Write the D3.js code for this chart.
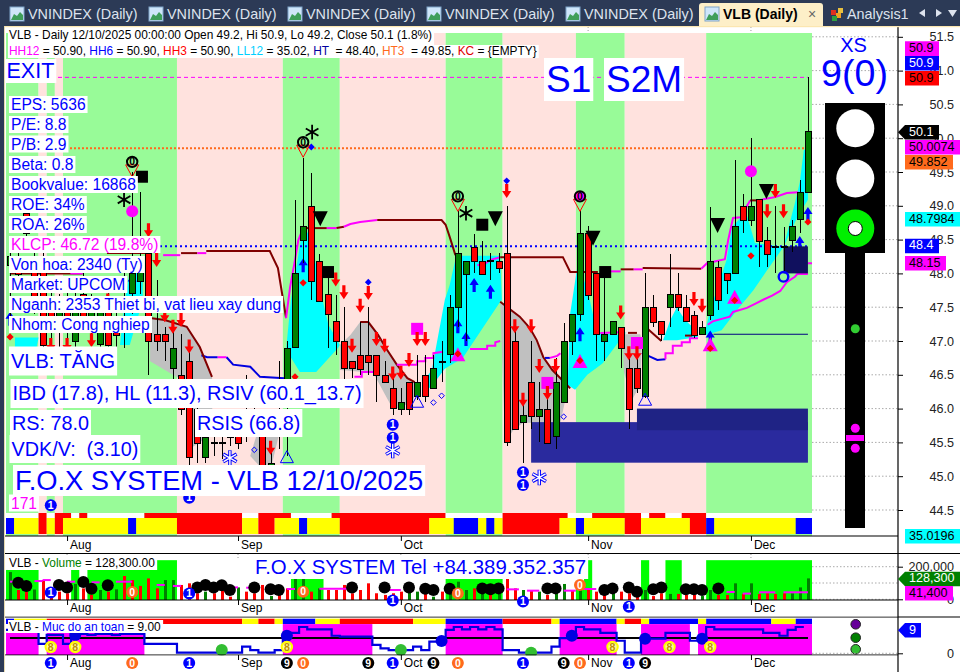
<!DOCTYPE html>
<html><head><meta charset="utf-8">
<style>
html,body{margin:0;padding:0;background:#fff;width:960px;height:672px;overflow:hidden}
svg{display:block}
text{font-family:"Liberation Sans",Arial,sans-serif;white-space:pre}
</style>
<script src="https://cdnjs.cloudflare.com/ajax/libs/d3/7.9.0/d3.min.js"></script>
</head><body><div id="c"></div>
<script>
// ---------- DATA ----------
const opens =[48.12,48.2,48.9,48.23,48.17,47.6,47.2,47.6,47.0,47.7,47.2,46.95,47.6,47.3,47.5,47.7,47.9,48.3,47.1,47.1,46.6,46.5,46.7,46.0,45.28,45.5,45.5,45.6,45.6,45.7,46.0,45.6,45.1,45.8,46.1,46.9,48.49,49.0,48.19,47.69,47.29,47.0,46.7,46.8,46.8,46.8,46.5,46.3,46.0,46.4,46.19,46.5,46.3,46.7,46.8,47.5,48.0,48.39,48.19,48.2,48.19,48.3,47.0,45.8,46.4,45.9,46.0,45.6,46.1,47.0,47.4,48.6,48.0,47.0,47.1,47.2,46.6,46.6,46.19,47.5,47.29,47.5,47.69,47.5,47.39,47.1,47.39,48.09,48.0,48.0,48.99,48.79,49.1,48.49,48.4,48.4,48.49,48.8,49.2];
const highs =[48.39,48.4,49.1,48.4,48.5,47.9,47.7,47.9,47.8,48.0,47.7,47.6,47.9,47.6,48.1,49.5,49.2,48.5,47.9,47.2,47.13,47.1,47.0,46.2,45.6,45.6,45.6,45.7,46.0,46.5,46.3,46.0,45.5,46.7,47.0,49.08,49.7,49.48,48.28,48.0,47.68,47.5,46.7,47.28,47.5,46.8,46.7,46.45,46.3,46.4,46.8,46.8,46.8,47.0,47.68,48.92,48.19,48.58,48.48,48.3,48.3,48.99,47.2,46.1,47.0,46.4,46.3,46.75,47.27,47.4,48.92,48.7,48.0,48.0,47.29,47.2,46.9,46.8,48.0,47.68,47.29,48.28,48.0,47.68,47.45,47.29,48.98,48.18,48.0,49.68,49.18,50.0,49.1,48.68,49.0,48.69,48.79,49.38,50.9];
const lows  =[47.35,47.8,48.3,47.4,46.9,47.0,46.9,47.0,46.8,47.2,47.0,46.8,46.8,46.9,46.9,47.4,47.7,46.5,46.85,46.7,46.4,45.9,45.0,45.2,45.2,45.3,45.25,45.45,45.4,45.5,45.6,45.0,45.0,45.4,45.3,46.9,48.15,47.6,47.6,46.9,46.8,46.03,46.45,46.5,46.5,46.1,46.4,45.9,45.9,45.9,46.13,46.1,46.3,46.4,46.67,47.2,47.0,48.0,48.0,47.9,48.0,45.45,45.7,45.2,45.7,45.5,45.5,45.4,46.1,46.8,47.3,47.6,46.7,46.7,47.1,46.6,45.7,46.23,46.15,47.21,47.0,47.21,47.45,47.29,47.05,47.1,47.31,47.46,47.69,48.0,48.6,48.7,48.1,48.1,48.0,48.0,48.31,48.6,49.2];
const closes=[48.26,48.0,48.6,47.6,46.94,47.2,47.5,47.2,47.6,47.3,47.5,47.5,46.93,47.1,47.5,48.0,48.1,47.0,47.0,47.0,46.9,46.0,45.28,45.5,45.58,45.5,45.5,45.6,45.5,45.6,45.8,45.1,45.2,46.0,46.9,48.0,48.7,47.89,47.6,47.39,47.0,46.6,46.6,46.6,46.7,46.5,46.4,46.0,46.1,46.0,46.4,46.19,46.6,46.7,47.5,48.3,48.19,48.19,48.0,48.2,48.09,45.5,45.7,45.9,45.9,46.0,45.5,46.4,47.0,47.4,48.6,47.69,47.1,47.1,47.29,46.89,46.0,46.3,47.5,47.28,47.1,47.69,47.5,47.29,47.1,47.2,48.19,47.6,47.89,48.7,48.79,48.99,48.48,48.29,48.4,48.4,48.7,49.2,50.1];
const volumes=[167,57,47,60,118,60,47,37,94,67,27,57,47,61,143,118,82,128,67,118,118,88,98,37,47,37,57,16,73,47,37,88,20,27,67,128,128,47,67,57,57,88,37,57,98,37,27,37,47,47,47,88,16,47,57,108,57,67,57,27,57,128,67,57,57,47,27,47,94,57,73,61,47,57,47,47,37,27,57,20,37,33,33,27,27,20,57,27,27,98,33,98,33,37,33,37,37,73,128.3];
const volumeDir="grrgrrrrgr"+"rgrgrrrrrg"+"grrrgrrrgr"+"rrgrrggrgr"+"rrrrrrrrrg"+"grgrgggrgr"+"grrgrgrggr"+"grrrgrrrgr"+"rgrrrggrrg"+"rgrrrrggg";
const safety=[8,8,8,8,3.2,6.3,6.3,3.2,6.6,6.6,6.3,6.6,6.6,6.3,6.6,6.6,6.6,3.2,3.2,3.2,3.2,.2,.2,.2,.2,.2,.2,.2,.2,2.3,1.1,.2,.2,1.1,6,7,9,8.2,8.2,8.2,6,5.7,5.7,5.7,5.7,2.9,1.7,1.1,1.1,1.1,2.3,1.1,4,4.2,8,9,8.2,9,8.2,9,8.2,1.1,1.1,.2,.2,.2,.2,2.3,5.2,6,9,8.2,8.2,7,7,4.3,.2,.2,5,5,5,7,7,7,4.3,5,9,8.2,8.2,8.2,8.2,8.2,8.2,7,7,6,8,9,9];
const monthTicks=[7,28,48,71,91];
const monthNames=["Aug","Sep","Oct","Nov","Dec"];
const priceTicks=[44.5,45,45.5,46,46.5,47,47.5,48,48.5,49,49.5,50,50.5,51,51.5];
const volumeTicks=[0,100,200];
// runs: [kind, number of bars]
const bandRuns=[["g",4],["p",1],["g",1],["p",1],["g",14],["p",13],["g",7],["p",13],["g",7],["p",9],["g",6],["p",10],["g",13]];
const stripMain=[["b",1],["y",3],["r",1],["y",1],["r",1],["y",8],["b",1],["y",5],["r",8],["y",2],["r",2],["y",3],["b",1],["y",4],["r",11],["y",3],["b",3],["y",1],["b",1],["y",1],["r",7],["y",2],["b",1],["y",5],["r",2],["y",6],["r",2],["b",1],["y",10],["b",2]];
const stripTop=[["w",4],["r",1],["w",1],["r",2],["w",1],["r",1],["w",7],["r",12],["w",2],["r",4],["w",5],["r",14],["w",7],["r",8],["w",3],["r",6],["w",1],["r",2],["w",2],["r",3],["w",13]];
const safetyStrip=[["b",1],["y",4],["r",24],["y",2],["r",2],["y",1],["b",4],["y",3],["r",9],["y",4],["b",7],["r",6],["y",1],["b",7],["y",1],["r",2],["y",1],["b",6],["y",1],["b",8],["y",3],["b",2]];
const safetyBlocks=[[0,3,7],[5,16,7],[34,44,10],[54,60,10],[68,74,10],[78,83,10],[85,98,10]];
const volumeBg=[[0,3,180],[8,8,180],[10,20,240],[35,38,128],[54,60,128],[70,70,67],[71,71,240],[78,78,240],[81,82,240],[86,98,240]];
const volumeAvg=[[0,1,108],[3,4,112],[4,5,118],[7,8,108],[10,11,104],[13,15,108],[18,19,88],[20,21,82],[27.5,28,73],[29,29.5,71],[34,35,63],[38,42,65],[46,48,57],[51.5,52.5,57],[61,62.5,61],[63.5,65,53],[68,69.5,53],[70,72,63],[88,89,45],[90,91,35],[92,94,43],[95,98,43]];
const volumeBlobs=[[1,102],[2,82],[6,88],[7,73],[9,106],[10,65],[12,86],[23,73],[24,88],[25,73],[26,86],[27,57],[30,73],[32,61],[33,57],[42,73],[46,73],[49,73],[51,65],[52,57],[54,65],[58,67],[59,61],[60,67],[66,67],[67,67],[73,57],[74,67],[76,73],[77,47],[79,61],[80,73],[83,61],[84,61],[85,57],[87,67]];
const cyanClouds=[
 [[.6,47.05],[3.5,47.05],[3.2,46.87],[.6,46.87]],
 [[13.5,46.94],[14.1,47.6],[14.7,48.02],[16.3,48.02],[16.3,47.6],[14.7,46.94]],
 [[33.9,46.87],[34.5,47.61],[35.2,48.12],[36,48.7],[36.7,48.57],[37.6,48.12],[38.1,47.75],[39.1,47.24],[40.5,46.94],[40.3,46.9],[37.6,46.54],[35.6,46.54]],
 [[50.6,46.38],[51.8,46.57],[53.4,47.61],[54,47.83],[54.8,48.26],[60.2,48.26],[60.4,47.61],[60.2,47.58],[55.6,46.75],[53.4,46.59],[51.6,46.3]],
 [[68.5,46.35],[68.8,47.41],[69.8,48.2],[71.2,47.61],[72.1,47.12],[74.9,47.09],[75.7,47.13],[74.9,47.01],[72.8,46.67],[70.9,46.5],[69.4,46.28]],
 [[80.2,47.01],[81.1,47.31],[81.9,47.5],[82.9,47.31],[83.8,47.21],[84.5,47.06],[81.9,47.01]],
 [[85.4,47.16],[86,47.46],[88,48.2],[88.7,48.69],[89.7,48.82],[90.5,48.86],[91.5,48.45],[95,48.39],[96.4,49.04],[97,49.35],[97.5,49.83],[98,49.83],[98,49.09],[96.7,48.83],[95,48.39],[93,48.05],[91.3,47.75],[89.3,47.46],[87.4,47.16],[85.4,47.09]]
];
const greyClouds=[
 [[17.2,47.34],[19,47.31],[21.7,47.21],[23.3,46.91],[24.8,46.47],[25,46.2],[24.5,45.6],[22,45.4],[21.5,46.4],[20,46.5],[17.2,46.7]],
 [[29.5,45.3],[30.5,45.7],[33,45.6],[32,45.1],[31,45.1]],
 [[40.5,46.94],[41.8,47.09],[43,47.28],[44,47.28],[45.2,47.09],[46.3,46.87],[47.5,46.65],[48.8,46.45],[49.7,46.39],[50.4,46.38],[49.5,46.13],[47.9,46],[46.9,46.02],[44.6,46.53],[40.5,46.57]],
 [[60.2,47.58],[62.6,47.36],[64,47.16],[65.5,46.76],[67.6,46.45],[68.5,46.3],[67.6,45.79],[63,45.79],[61.8,45.68],[60.8,45.49]],
 [[75.2,47.1],[77.4,47.1],[77.6,47.01],[77.4,46.35],[76.4,46.13],[75.4,46.54]]
];
const zones=[[64,98,45.8,45.2,"a"],[77,98,46,45.68,"b"],[95,98,48.4,48,"c"]];
// trailing-stop lines, one entry per colour run
const trail=[
 ["r",[[0,48],[8.9,48]]],["m",[[7.4,48],[8.9,48]]],["r",[[11.9,48.3],[16.8,48.3]]],["m",[[18.8,48.27],[20.9,48.27]]],
 ["r",[[21,48.3],[23,48.3]]],["m",[[23,48.3],[24.1,48.3]]],["r",[[24.1,48.33],[31.9,48.33],[32.9,48.08],[33.4,47.71],[33.9,47.34]]],
 ["m",[[33.9,47.34],[34.4,47.8],[35,48.2],[35.4,48.49],[36,48.67]]],["r",[[36,48.67],[38.9,48.67]]],["m",[[38.9,48.67],[40.1,48.67]]],
 ["r",[[40.1,48.67],[41,48.69]]],["m",[[41,48.69],[41.8,48.73],[43,48.76],[45.1,48.79]]],
 ["r",[[45.1,48.79],[53,48.79],[53.5,48.72],[54,48.54],[54.7,48.27]]],["m",[[57.4,48.12],[58.4,48.15],[59,48.2],[60.2,48.24]]],
 ["r",[[60.2,48.24],[67.9,48.24],[68.8,48.02],[72.2,48.02]]],["m",[[73.7,48.03],[75,48.03]]],["r",[[75,48.06],[76.6,48.06]]],["m",[[76.6,48.06],[77.7,48.06]]],
 ["r",[[77.7,48.08],[84.9,48.07]]],["m",[[84.9,48.07],[85.6,48.15],[87.8,48.21],[88.2,48.49],[88.8,48.82],[89.7,48.83],[90.9,49.08]]],
 ["r",[[90.9,49.08],[91.8,49.08]]],["m",[[91.8,49.08],[94,49.13],[95.4,49.19],[96.8,49.2]]],
 ["b",[[23.5,46.79],[24.2,46.76],[25.5,46.76]]],["m",[[25.5,46.76],[26.6,46.76]]],["b",[[26.6,46.76],[27.4,46.65],[29.5,46.62],[30.7,46.47],[33.7,46.45]]],
 ["r",[[17.2,47.34],[19,47.31],[21.7,47.21],[23.3,46.91],[24.8,46.47]]],
 ["m",[[42.3,46.47],[43.2,46.47],[43.2,46.54],[44.6,46.54]]],
 ["r",[[43,47.28],[44,47.28],[45.2,47.09],[46.3,46.87],[47.5,46.65],[48.8,46.45],[49.7,46.39]]],
 ["m",[[47.5,46.65],[50,46.65],[50,46.7],[51,46.7],[51,46.75],[52,46.75],[52,46.82],[53.2,46.84]]],
 ["m",[[56.5,46.88],[58.6,46.88],[58.6,46.93],[59.6,46.93],[59.6,46.98],[60.2,47]]],
 ["r",[[60.2,47.58],[62.6,47.36],[63.5,47.24],[64,47.16],[64.7,47.01],[65.5,46.76],[66.6,46.57],[67.6,46.45],[68.8,46.3]]],
 ["b",[[65.7,46.75],[66.3,46.75]]],["m",[[66.3,46.75],[67.2,46.78],[67.6,46.82]]],["m",[[72.5,47.12],[74.9,47.13]]],
 ["r",[[75.9,47.12],[77,47.12]]],["r",[[78.4,47.17],[80,47]]],["b",[[77.6,46.82],[78.4,46.78],[79.5,46.72],[80.5,46.73]]],
 ["m",[[80.5,46.73],[80.5,46.82],[81.4,46.82],[81.4,46.93],[82.5,46.93],[82.5,46.98],[83.5,46.98],[83.5,47.04],[84.5,47.04]]],
 ["r",[[82.9,47.08],[83.8,47.08]]],
 ["m",[[85.7,47.24],[86.3,47.29],[88.4,47.36],[88.8,47.43],[90.5,47.49],[91.5,47.55],[92.5,47.61],[93.6,47.67],[94.6,47.74],[95.4,47.87],[96.4,47.95],[96.7,47.99],[98,47.99]]],
 ["m",[[98,48.15],[98.5,48.15]]]
];
const redArrows=[[17,48.64],[18,48.2],[19,47.38],[20,47.21],[21,47.31],[22,46.92],[5,46.94],[7,46.94],[10,47.01],[12,47.6],[32,45.42],[40,47.91],[41,47.72],[43,47.52],[44,47.71],[42,46.93],[45,47.03],[46,46.93],[47,46.52],[48,46.53],[49,46.72],[50,47.03],[51,47.03],[61,49.22],[62,47.22],[63,46.13],[64,47.22],[65,46.63],[66,46.23],[67,46.63],[75,47.42],[76,46.82],[77,46.82],[84,47.62],[85,47.52],[94,49.22],[93,48.92],[95,48.92]];
const blueArrows=[[55,47.22],[56,47.03],[57,47.83],[59,47.73],[70,47.1],[36,48.12],[15,47.88],[98,48.88],[86,47.05],[97,48.45],[0,47.33]];
const magentaTriangles=[[55,46.7],[70,46.6],[86,46.85],[89,47.55]];
const hollowTriangles=[[50,46.02],[78,46.05],[34,45.2]];
const blackFlags=[[38.1,48.81],[59.6,48.81],[71.6,48.52],[86.9,48.71],[92.9,49.21]];
const blackSquares=[[16.2,49.43],[39.05,48.02],[58,48.72],[73.1,48.02]];
const magentaSquares=[[50,47.18],[66,46.38],[77,46.97]];
const magentaDots=[[15,48.92],[91,49.51]];
const redDiamonds=[[0,47.06],[35,46.47],[36,47.86],[91,48.26],[98,48.76],[55,46.81],[70,46.71],[86,46.89],[89,47.6]];
const blueDiamonds=[[44,47.87],[61,49.37],[37,49.87]];
const hollowDiamonds=[[52,46.09],[53,46.19],[68,45.88],[30,45.39]];
const asterisks=[[14,49.09],[37.1,50.09],[56,48.89]];
const snowflakes=[[47,45.38],[65,44.98],[27,45.27]];
const zeroBadges=[[15,49.65],[36,49.94],[55,49.14],[70,49.14]];
const oneBadges=[[47,45.76],[47,45.57],[63,45.06],[63,44.87],[5,44.57],[22,44.68]];
const volumeBadges=[["1",5,41],["0",15,45],["1",22,35],["0",36,47],["1",47,-8],["0",55,35],["1",63,-14],["0",70,88],["1",76,-45]];
const safetyDots=[["b",34,6],["b",8,6.3],["b",53,4.2],["b",69,6],["b",78,5],["b",85,5],["l",26,1.1],["l",48,1.1],["l",64,.2]];
const safetyEights=[5,8,34,74,81,86];
const bottomBadges=[["1",5],["0",15],["1",22],["9",34],["0",36],["9",44],["1",47],["9",52],["0",55],["1",63],["9",68],["0",70],["1",76],["9",78]];
const levels=[[50.9,"dash"],[49.85,"orange"],[48.4,"blue"]];
const priceLabels=[["50.9","m",41.3,0],["50.9","u",56,0],["50.9","e",71,0],["50.1","k",125,1],["50.0074","m",140,0],["49.852","o",155,0],["48.7984","c",212,0],["48.4","u",238.7,0],["48.15","m",256,0],["35.0196","c",529,0],["128,300","d",571.7,1],["41,400","m",586,0],["9","u",623,1]];
const indicatorLabels=[["EPS: 5636",110],["P/E: 8.8",130],["P/B: 2.9",149.5],["Beta: 0.8",170],["Bookvalue: 16868",190],["ROE: 34%",210],["ROA: 26%",230],["KLCP: 46.72 (19.8%)",250],["Von hoa: 2340 (Ty)",270],["Market: UPCOM",290],["Nganh: 2353 Thiet bi, vat lieu xay dung",310],["Nhom: Cong nghiep",330]];
const tabNames=["VNINDEX (Daily)","VNINDEX (Daily)","VNINDEX (Daily)","VNINDEX (Daily)","VNINDEX (Daily)"];

// ---------- STYLE ----------
const BLUE="#0000FF",MAG="#FF00FF",ORG="#FF6A1C",DRED="#800000",FONT='"Liberation Sans",Arial,sans-serif';
const kindColor={g:"#98FB98",p:"#FFE2DE",b:"#0000FF",y:"#FFFF00",r:"#FF0000",w:"#FFFFFF",m:MAG,u:"#0000FF",e:"#FF0000",k:"#000",o:ORG,c:"#00FFFF",d:"#008000",l:"#32CD32"};
const trailColor={r:DRED,m:MAG,b:"#0000E0"};
const zoneColor={a:"#2A2A9E",b:"#1F2385",c:"#10105E"};

const svg=d3.select("#c").append("svg").attr("width",960).attr("height",672).attr("viewBox","0 0 960 672");
svg.append("rect").attr("width",960).attr("height",672).attr("fill","#fff");

// ---------- SCALES ----------
const xBand=d3.scaleBand().domain(d3.range(99)).range([6,812]).padding(0);
const xL=d3.scaleLinear().domain([-.5,98.5]).range([6,812]);
const y=d3.scaleLinear().domain([44.5,51.5]).range([510,36.8]);
const yV=d3.scaleLinear().domain([0,200]).range([599.3,566.7]);
const yS=d3.scaleLinear().domain([0,9]).range([653.3,627]);
const line=d3.line().x(d=>xL(d[0])).y(d=>y(d[1]));

function runs(list){let at=0;return list.map(([k,n])=>{const r={k,from:at,to:at+n-1};at+=n;return r;});}
const bandLeft=i=>xL(i-.5), bandRight=i=>xL(i+.5);

// ---------- MAIN PANEL ----------
const main=svg.append("g");
main.selectAll("rect.band").data(runs(bandRuns)).join("rect").attr("class","band")
 .attr("x",d=>bandLeft(d.from)).attr("width",d=>bandRight(d.to)-bandLeft(d.from)).attr("y",33).attr("height",503).attr("fill",d=>kindColor[d.k]);
main.selectAll("rect.top").data(runs(stripTop)).join("rect").attr("class","top")
 .attr("x",d=>bandLeft(d.from)).attr("width",d=>bandRight(d.to)-bandLeft(d.from)).attr("y",513).attr("height",5).attr("fill",d=>kindColor[d.k]);
main.selectAll("rect.strip").data(runs(stripMain)).join("rect").attr("class","strip")
 .attr("x",d=>bandLeft(d.from)).attr("width",d=>bandRight(d.to)-bandLeft(d.from)).attr("y",518).attr("height",16).attr("fill",d=>kindColor[d.k]);

const poly=pts=>"M"+pts.map(d=>[xL(d[0]),y(d[1])].join(",")).join("L")+"Z";
main.selectAll("path.cy").data(cyanClouds).join("path").attr("class","cy").attr("d",poly).attr("fill","#00FFFF");
main.selectAll("path.gr").data(greyClouds).join("path").attr("class","gr").attr("d",poly).attr("fill","#C0C0C0");

// level lines
main.selectAll("line.lv").data(levels).join("line").attr("class","lv")
 .attr("x1",d=>d[1]=="dash"?58:70).attr("x2",xL(98)).attr("y1",d=>y(d[0])).attr("y2",d=>y(d[0]))
 .attr("stroke",d=>d[1]=="dash"?MAG:d[1]=="orange"?ORG:BLUE)
 .attr("stroke-width",d=>d[1]=="dash"?1:2)
 .attr("stroke-dasharray",d=>d[1]=="dash"?"4,3":d[1]=="orange"?"2,2":"2,3");

// trailing lines
main.selectAll("path.tr").data(trail).join("path").attr("class","tr")
 .attr("d",d=>line(d[1])).attr("fill","none").attr("stroke",d=>trailColor[d[0]]).attr("stroke-width",2);
main.append("line").attr("x1",xL(86.4)).attr("x2",xL(98)).attr("y1",y(47.1)).attr("y2",y(47.1)).attr("stroke","#000080").attr("stroke-width",1.2);

// arrows
const arrowDown=(x,yy)=>`M${x-1.6},${yy-7}h3.2v7h3l-4.6,7l-4.6,-7h3z`;
const arrowUp=(x,yy)=>`M${x-1.6},${yy+7}h3.2v-7h3l-4.6,-7l-4.6,7h3z`;
main.selectAll("path.ub").data(blueArrows).join("path").attr("class","ub").attr("d",d=>arrowUp(xL(d[0]),y(d[1]))).attr("fill",BLUE);

// zones
main.selectAll("rect.zone").data(zones).join("rect").attr("class","zone")
 .attr("x",d=>xL(d[0])).attr("width",d=>xL(d[1])-xL(d[0])).attr("y",d=>y(d[2])).attr("height",d=>y(d[3])-y(d[2])).attr("fill",d=>zoneColor[d[4]]);

// candles
const idx=d3.range(99);
const cg=main.append("g");
cg.selectAll("line").data(idx).join("line")
 .attr("x1",i=>Math.round(xL(i))+.5).attr("x2",i=>Math.round(xL(i))+.5).attr("y1",i=>y(highs[i])).attr("y2",i=>y(lows[i]))
 .attr("stroke","#000").attr("stroke-width",1).attr("shape-rendering","crispEdges");
cg.selectAll("rect").data(idx).join("rect")
 .attr("x",i=>Math.round(xL(i))-2.5).attr("width",6)
 .attr("y",i=>Math.round(y(Math.max(opens[i],closes[i])))+.5)
 .attr("height",i=>Math.max(1,Math.round(Math.abs(y(opens[i])-y(closes[i])))))
 .attr("fill",i=>closes[i]>=opens[i]?"#008000":"#FF0000").attr("stroke","#000").attr("stroke-width",1);

// square / dot / triangle marks
const sq=(data,c,s)=>main.append("g").selectAll("rect").data(data).join("rect").attr("x",d=>xL(d[0])-s/2).attr("y",d=>y(d[1])-s/2).attr("width",s).attr("height",s).attr("fill",c);
sq(magentaSquares,MAG,12);
sq(blackSquares,"#000",12);
main.append("g").selectAll("circle").data(magentaDots).join("circle").attr("cx",d=>xL(d[0])).attr("cy",d=>y(d[1])).attr("r",6).attr("fill",MAG);
main.selectAll("path.dr").data(redArrows).join("path").attr("class","dr").attr("d",d=>arrowDown(xL(d[0]),y(d[1]))).attr("fill","#FF0000");
main.selectAll("path.mt").data(magentaTriangles).join("path").attr("class","mt").attr("d",d=>{const x=xL(d[0]),b=y(d[1]);return `M${x-7.5},${b}L${x},${b-14}L${x+7.5},${b}Z`;}).attr("fill",MAG);
main.selectAll("path.ht").data(hollowTriangles).join("path").attr("class","ht").attr("d",d=>{const x=xL(d[0]),b=y(d[1]);return `M${x-6.5},${b}L${x},${b-12}L${x+6.5},${b}Z`;}).attr("fill","none").attr("stroke",BLUE);
main.selectAll("path.bf").data(blackFlags).join("path").attr("class","bf").attr("d",d=>{const x=xL(d[0]),c=y(d[1]);return `M${x-7.5},${c-7.5}H${x+7.5}L${x},${c+7.5}Z`;}).attr("fill","#000");
const dia=(x,c,r)=>`M${x},${c-r}L${x+r},${c}L${x},${c+r}L${x-r},${c}Z`;
main.selectAll("path.rd").data(redDiamonds).join("path").attr("class","rd").attr("d",d=>dia(xL(d[0]),y(d[1]),3.6)).attr("fill","#FF0000");
main.selectAll("path.bd").data(blueDiamonds).join("path").attr("class","bd").attr("d",d=>dia(xL(d[0]),y(d[1]),3.4)).attr("fill",BLUE);
main.selectAll("path.hd").data(hollowDiamonds).join("path").attr("class","hd").attr("d",d=>dia(xL(d[0]),y(d[1]),2.8)).attr("fill","none").attr("stroke",BLUE);
main.append("circle").attr("cx",xL(95)).attr("cy",y(47.95)).attr("r",4.8).attr("fill","none").attr("stroke",BLUE).attr("stroke-width",2.4);
const ast=d3.symbol(d3.symbolAsterisk);
main.selectAll("path.as").data(asterisks).join("path").attr("class","as").attr("transform",d=>`translate(${xL(d[0])},${y(d[1])})`).attr("d",ast.size(150)()).attr("fill","none").attr("stroke","#000").attr("stroke-width",1.8);
main.selectAll("path.sf").data(snowflakes).join("path").attr("class","sf").attr("transform",d=>`translate(${xL(d[0])},${y(d[1])})`).attr("d",ast.size(170)()).attr("fill","none").attr("stroke",BLUE).attr("stroke-width",3.4);
main.selectAll("path.sf2").data(snowflakes).join("path").attr("class","sf2").attr("transform",d=>`translate(${xL(d[0])},${y(d[1])})`).attr("d",ast.size(150)()).attr("fill","none").attr("stroke","#fff").attr("stroke-width",1.4);

function badge(g,x,cy,t,fill,fg,stroke){
 g.append("circle").attr("cx",x).attr("cy",cy).attr("r",stroke?5.2:6).attr("fill",fill).attr("stroke",stroke||"none").attr("stroke-width",stroke?2:0);
 g.append("text").attr("x",x).attr("y",cy+3.6).attr("text-anchor","middle").attr("font-size",10.5).attr("font-weight","bold").attr("fill",fg).text(t);
}
zeroBadges.forEach(d=>{
 const x=xL(d[0]),c=y(d[1]);
 main.append("path").attr("d",`M${x-6.5},${c+3}H${x+6.5}L${x},${c+15}Z`).attr("fill","none").attr("stroke","#FF0000");
 badge(main,x,c,"0",d[0]==70?MAG:"none","#000","#000");
});
oneBadges.forEach(d=>badge(main,xL(d[0]),y(d[1]),"1",BLUE,"#fff"));

// ---------- RIGHT SIDE OF MAIN PANEL ----------
const right=svg.append("g");
right.selectAll("line").data(priceTicks).join("line").attr("x1",812).attr("x2",898).attr("y1",d=>y(d)).attr("y2",d=>y(d)).attr("stroke","#aaa").attr("stroke-dasharray","1.5,2");
right.append("rect").attr("x",845).attr("y",250).attr("width",20).attr("height",278).attr("fill","#000");
right.append("rect").attr("x",825).attr("y",103).attr("width",60).attr("height",150).attr("fill","#000");
right.append("circle").attr("cx",855.3).attr("cy",128.3).attr("r",19).attr("fill","#fff");
right.append("circle").attr("cx",855.3).attr("cy",178.5).attr("r",19).attr("fill","#fff");
right.append("circle").attr("cx",855.3).attr("cy",228.5).attr("r",19).attr("fill","#00F000");
right.append("circle").attr("cx",855.3).attr("cy",228.5).attr("r",7).attr("fill","#fff").attr("stroke","#000");
right.append("circle").attr("cx",855.3).attr("cy",328.7).attr("r",4.5).attr("fill","#32CD32");
right.append("circle").attr("cx",855.3).attr("cy",428.3).attr("r",4.5).attr("fill",MAG);
right.append("rect").attr("x",846).attr("y",435).attr("width",18).attr("height",6).attr("fill",MAG);
right.append("circle").attr("cx",855.3).attr("cy",448.3).attr("r",4.5).attr("fill",MAG);
right.append("text").attr("x",853.5).attr("y",52).attr("text-anchor","middle").attr("font-size",20).attr("fill",BLUE).text("XS");
right.append("text").attr("x",854.5).attr("y",86).attr("text-anchor","middle").attr("font-size",37.6).attr("fill",BLUE).text("9(0)");

// ---------- VOLUME PANEL ----------
const vol=svg.append("g");
vol.selectAll("rect.bg").data(volumeBg).join("rect").attr("class","bg").attr("x",d=>bandLeft(d[0])).attr("width",d=>bandRight(d[1])-bandLeft(d[0])).attr("y",d=>yV(d[2])).attr("height",d=>600-yV(d[2])).attr("fill","#00FF00");
vol.selectAll("line.g").data(volumeTicks).join("line").attr("class","g").attr("x1",812).attr("x2",898).attr("y1",d=>yV(d)).attr("y2",d=>yV(d)).attr("stroke","#aaa").attr("stroke-dasharray","1.5,2");
vol.selectAll("rect.v").data(idx).join("rect").attr("class","v").attr("x",i=>Math.round(xL(i))-1).attr("width",3).attr("y",i=>yV(volumes[i])).attr("height",i=>600-yV(volumes[i])).attr("fill",i=>volumeDir[i]=="g"?"#008000":"#FF0000");
vol.selectAll("line.a").data(volumeAvg).join("line").attr("class","a").attr("x1",d=>xL(d[0])).attr("x2",d=>xL(d[1])).attr("y1",d=>yV(d[2])).attr("y2",d=>yV(d[2])).attr("stroke",MAG).attr("stroke-width",2);
vol.selectAll("circle").data(volumeBlobs).join("circle").attr("cx",d=>xL(d[0])).attr("cy",d=>yV(d[1])).attr("r",6).attr("fill","#000");

// ---------- SAFETY PANEL ----------
const saf=svg.append("g");
saf.selectAll("rect.b").data(safetyBlocks).join("rect").attr("class","b").attr("x",d=>bandLeft(d[0])).attr("width",d=>bandRight(d[1])-bandLeft(d[0])).attr("y",d=>yS(d[2])).attr("height",d=>655-yS(d[2])).attr("fill",MAG);
saf.selectAll("rect.s").data(runs(safetyStrip)).join("rect").attr("class","s").attr("x",d=>bandLeft(d.from)).attr("width",d=>bandRight(d.to)-bandLeft(d.from)).attr("y",618.7).attr("height",5.3).attr("fill",d=>kindColor[d.k]);
saf.append("line").attr("x1",10).attr("x2",808).attr("y1",638).attr("y2",638).attr("stroke","#000").attr("stroke-width",2);
saf.append("path").datum(idx).attr("fill","none").attr("stroke","#0000E0").attr("stroke-width",2.2)
 .attr("d",d3.line().curve(d3.curveStepAfter).x(i=>bandLeft(i)).y(i=>yS(safety[i])));
saf.selectAll("circle.d").data(safetyDots).join("circle").attr("class","d").attr("cx",d=>xL(d[1])).attr("cy",d=>yS(d[2])).attr("r",6).attr("fill",d=>d[0]=="b"?"#0000E0":"#32BE32");
safetyEights.forEach(i=>{saf.append("circle").attr("cx",xL(i)).attr("cy",647).attr("r",5.2).attr("fill","#FFF8A0").attr("stroke","#FFFF00").attr("stroke-width",2);
 saf.append("text").attr("x",xL(i)).attr("y",650.6).attr("text-anchor","middle").attr("font-size",10.5).attr("font-weight","bold").attr("fill","#C09000").text("8");});
const badgeColor={"1":[BLUE,"#fff"],"0":[ORG,"#fff"],"9":["#000","#fff"]};

[[855.7,624.3,"#660099"],[855.7,637.7,"#008000"],[855.7,649.3,"#32BE32"]].forEach(d=>svg.append("circle").attr("cx",d[0]).attr("cy",d[1]).attr("r",4.8).attr("fill",d[2]).attr("stroke","#222"));
svg.append("line").attr("x1",812).attr("x2",898).attr("y1",yS(0)).attr("y2",yS(0)).attr("stroke","#aaa").attr("stroke-dasharray","1.5,2");

// ---------- AXES / FRAME ----------
const frame=svg.append("g");
[[5,898,536],[5,960,553.5],[5,898,600],[5,960,617],[5,898,655]].forEach(d=>frame.append("line").attr("x1",d[0]).attr("x2",d[1]).attr("y1",d[2]).attr("y2",d[2]).attr("stroke","#000").attr("stroke-width",1.2));
frame.append("rect").attr("x",5).attr("y",601).attr("width",893).attr("height",15.4).attr("fill","#fff");
frame.append("rect").attr("x",5).attr("y",655.6).attr("width",893).attr("height",16.4).attr("fill","#fff");
[[536,548.5],[600,611.5],[655,666.5]].forEach(([ay,base])=>{
 const g=frame.append("g").attr("transform",`translate(0,${ay})`)
  .call(d3.axisBottom(xL).tickValues(monthTicks).tickSize(5).tickFormat((d,i)=>monthNames[i]));
 g.select(".domain").remove();
 g.selectAll("line").attr("stroke","#000");
 g.selectAll("text").attr("text-anchor","start").attr("x",2.5).attr("y",base-ay).attr("dy",0).attr("fill","#000").style("font-family",FONT).style("font-size","12px");
});
volumeBadges.forEach(d=>{const c=badgeColor[d[0]];badge(frame,xL(d[1]),yV(d[2]),d[0],c[0],c[1]);});
bottomBadges.forEach(d=>{const c=badgeColor[d[0]];badge(frame,xL(d[1]),663,d[0],c[0],c[1]);});

const ax=frame.append("g").attr("transform","translate(898,0)").call(d3.axisRight(y).tickValues(priceTicks).tickSize(5).tickFormat(d3.format(".1f")));
ax.select(".domain").remove();
ax.selectAll("line").attr("stroke","#000");
const styleAxisText=s=>s.attr("text-anchor","end").attr("x",56).attr("dy","0.32em").attr("fill","#222").style("font-family",FONT).style("font-size","12.6px");
ax.selectAll("text").call(styleAxisText);
const axV=frame.append("g").attr("transform","translate(898,0)").call(d3.axisRight(yV).tickValues([0,200]).tickSize(5).tickFormat(d=>d?d3.format(",")(d*1000):"0"));
axV.select(".domain").remove();axV.selectAll("line").attr("stroke","#000");axV.selectAll("text").call(styleAxisText);
const axS=frame.append("g").attr("transform","translate(898,0)").call(d3.axisRight(yS).tickValues([0]).tickSize(5));
axS.select(".domain").remove();axS.selectAll("line").attr("stroke","#000");axS.selectAll("text").call(styleAxisText);
frame.append("line").attr("x1",898).attr("x2",898).attr("y1",27).attr("y2",672).attr("stroke","#000").attr("stroke-width",1.2);
monthTicks.forEach(i=>{
 frame.append("line").attr("x1",xL(i)).attr("x2",xL(i)).attr("y1",27).attr("y2",33).attr("stroke","#999").attr("stroke-dasharray","1,2");
 frame.append("line").attr("x1",xL(i)).attr("x2",xL(i)).attr("y1",554).attr("y2",560).attr("stroke","#999").attr("stroke-dasharray","1,2");
});

// price labels on the axis
const lab=svg.append("g");
priceLabels.forEach(([t,k,top,ptr])=>{
 const c=kindColor[k];
 const light=(k=="u"||k=="k"||k=="d");
 const tx=lab.append("text").attr("x",909).attr("y",top+10.6).attr("font-size",12.6).attr("fill",light?"#fff":"#000").text(t);
 const w=tx.node().getComputedTextLength();
 const wide=Math.round(w+9);
 const path=ptr?`M898,${top+7.3}L905,${top}H${905+wide}V${top+14.6}H905Z`:`M905,${top}H${905+wide}V${top+14.6}H905Z`;
 lab.insert("path","text").attr("d",path).attr("fill",c);
});
lab.selectAll("text").raise();

// ---------- TEXT BOXES ----------
const boxes=svg.append("g");
function box(x,base,size,fill,str,padY){
 const g=boxes.append("g");
 const t=g.append("text").attr("x",x).attr("y",base).attr("font-size",size).attr("fill",fill).text(str);
 const b=t.node().getBBox();
 g.insert("rect","text").attr("x",b.x-2).attr("y",b.y-(padY||0)).attr("width",b.width+4).attr("height",b.height+2*(padY||0)).attr("fill","#fff");
 return g;
}
box(6.5,78,21.5,BLUE,"EXIT");
box(546,92,37,BLUE,"S1",1);
box(606,92,37,BLUE,"S2M",1);
indicatorLabels.forEach(([s,base],i)=>box(11,base,15.6,s.startsWith("KLCP")?MAG:BLUE,s));
box(11,368,20,BLUE,"VLB: TĂNG",3.5);
box(12.5,400,20,BLUE,"IBD (17.8), HL (11.3), RSIV (60.1_13.7)",3);
box(12,430,19.8,BLUE,"RS: 78.0",2);
box(197,430,19.8,BLUE,"RSIS (66.8)",3);
box(11.5,456,19.8,BLUE,"VDK/V:  (3.10)",3);
box(15,490,27.3,BLUE,"F.O.X SYSTEM - VLB 12/10/2025");
box(11,508.5,15.6,MAG,"171");
box(255,574,20.4,BLUE,"F.O.X SYSTEM Tel +84.389.352.357",1);

function rich(x,base,size,parts,opts){
 const g=svg.append("g");
 const t=g.append("text").attr("x",x).attr("y",base).attr("font-size",size);
 parts.forEach(([s,c])=>t.append("tspan").attr("fill",c).text(s));
 const b=t.node().getBBox();
 g.insert("rect","text").attr("x",b.x-1).attr("y",opts.y).attr("width",b.width+3).attr("height",opts.h).attr("fill","#fff");
}
rich(9,39,11.9,[["VLB - Daily 12/10/2025 00:00:00 Open 49.2, Hi 50.9, Lo 49.2, Close 50.1 (1.8%)","#000"]],{y:27,h:18});
rich(9,55,11.9,[["HH12",MAG],[" = 50.90, ","#000"],["HH6",BLUE],[" = 50.90, ","#000"],["HH3","#FF0000"],[" = 50.90, ","#000"],["LL12","#00CFFF"],[" = 35.02, ","#000"],["HT","#0000A0"],["  = 48.40, ","#000"],["HT3",ORG],["  = 49.85, ","#000"],["KC","#E00000"],[" = {EMPTY}","#000"]],{y:45,h:13});
rich(9,567,11.9,[["VLB - ","#000"],["Volume","#008000"],[" = 128,300.00","#000"]],{y:557,h:13});
rich(9,631,11.9,[["VLB - ","#000"],["Muc do an toan",BLUE],[" = 9.00","#000"]],{y:620,h:13});

// ---------- WINDOW CHROME / TABS ----------
const chrome=svg.append("g");
chrome.append("rect").attr("width",960).attr("height",26).attr("fill","#2C3A56");
chrome.append("rect").attr("y",26).attr("width",960).attr("height",1.2).attr("fill","#FBE6B0");
chrome.append("rect").attr("y",26).attr("width",4).attr("height",646).attr("fill","#2C3A56");
chrome.append("rect").attr("x",4).attr("y",26).attr("width",1).attr("height",646).attr("fill","#E6D9B0");
function icon(x){
 chrome.append("rect").attr("x",x).attr("y",7).attr("width",14).attr("height",14).attr("fill","#CFE6FA").attr("stroke","#7FA4C8");
 chrome.append("path").attr("d",`M${x+1},20L${x+4},14L${x+7},16L${x+10},12L${x+13},15V20Z`).attr("fill","#3E9E5A");
}
tabNames.forEach((t,i)=>{const x=10+139*i;icon(x);
 chrome.append("text").attr("x",x+18).attr("y",19).attr("font-size",14.4).attr("fill","#DDE3EE").text(t);});
chrome.append("path").attr("d","M699,26V6Q699,3 702,3H820Q823,3 823,6V26Z").attr("fill","#FDEFC8");
icon(705);
chrome.append("text").attr("x",723).attr("y",19).attr("font-size",14).attr("font-weight","bold").attr("fill","#000").text("VLB (Daily)");
chrome.append("text").attr("x",808).attr("y",18.5).attr("font-size",14).attr("fill","#666").text("×");
[[831,10,"#E03020"],[836,13,"#F0A020"],[832,16,"#30A040"],[838,8,"#E8C040"]].forEach(d=>chrome.append("rect").attr("x",d[0]).attr("y",d[1]).attr("width",5).attr("height",5).attr("fill",d[2]));
chrome.append("text").attr("x",847).attr("y",19).attr("font-size",14.4).attr("fill","#DDE3EE").text("Analysis1");
chrome.append("path").attr("d","M925,9L919,13L925,17Z").attr("fill","#DDE3EE");
chrome.append("path").attr("d","M936,9L942,13L936,17Z").attr("fill","#DDE3EE");
chrome.append("path").attr("d","M948,10H957L952.5,17Z").attr("fill","#DDE3EE");
</script></body></html>
